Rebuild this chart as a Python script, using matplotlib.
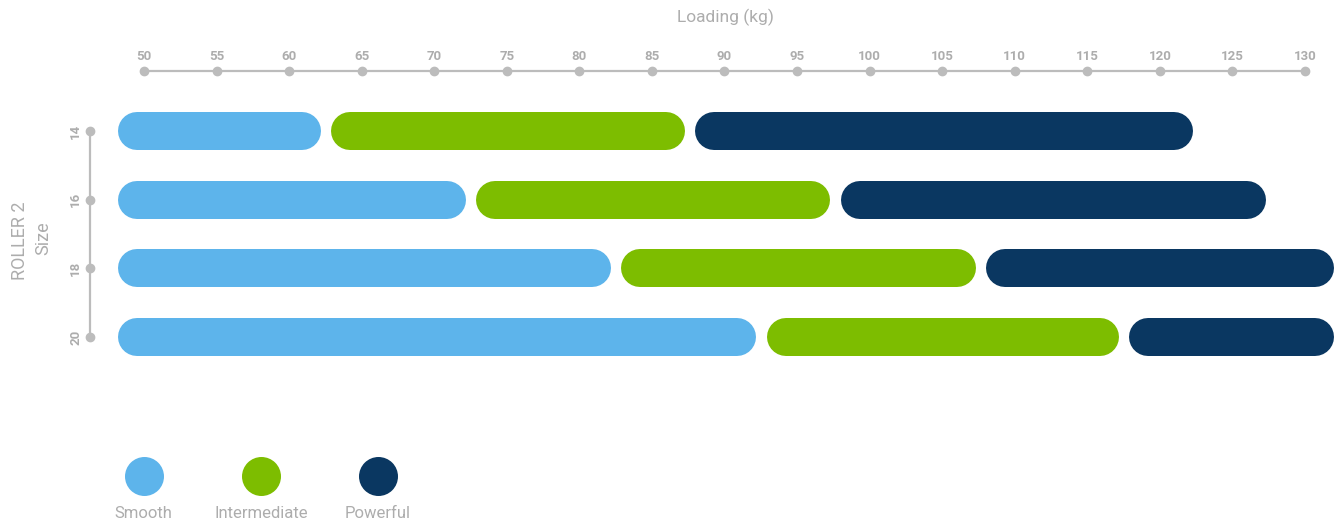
import numpy as np
import matplotlib
matplotlib.use('Agg')
import matplotlib.pyplot as plt
from matplotlib.transforms import offset_copy

plt.rcParams['font.family'] = ['Roboto', 'DejaVu Sans']

# data: visible range of each band, in kg
sizes = ['14', '16', '18', '20']
categories = ['Smooth', 'Intermediate', 'Powerful']
colors = ['#5db4eb', '#7dbd00', '#0a3761']

smooth_start = [48.2, 48.2, 48.2, 48.2]
smooth_end = [62.2, 72.2, 82.2, 92.2]
inter_start = [62.9, 72.9, 82.9, 92.9]
inter_end = [87.3, 97.3, 107.3, 117.2]
power_start = [88.0, 98.0, 108.0, 117.9]
power_end = [122.3, 127.3, 132.0, 132.0]

xticks = np.arange(50, 131, 5)

grey = '#bcbcbc'
txt = '#adadad'

W, H = 1342, 531
fig = plt.figure(figsize=(W / 100, H / 100), dpi=100)

# axes placement in pixels
xmin, xmax = 48, 132
left_px, right_px = 114.975, 1334.0
top_px, bot_px = 71, 371.4
ax = fig.add_axes([left_px / W, 1 - bot_px / H, (right_px - left_px) / W, (bot_px - top_px) / H])
ax.set_xlim(xmin, xmax)
ax.set_ylim(3.5, -0.8725)

px_per_kg = (right_px - left_px) / (xmax - xmin)
bar_px = 38
r = bar_px / 2 / px_per_kg
lw = bar_px * 0.72

starts = [smooth_start, inter_start, power_start]
ends = [smooth_end, inter_end, power_end]
for c in range(3):
    for i in range(len(sizes)):
        ax.plot([starts[c][i] + r, ends[c][i] - r], [i, i], color=colors[c],
                lw=lw, solid_capstyle='round', solid_joinstyle='round')

# axes styling
for s in ['right', 'bottom']:
    ax.spines[s].set_visible(False)
ax.spines['top'].set_bounds(50, 130)
ax.spines['top'].set_color(grey)
ax.spines['top'].set_linewidth(1.6)
ax.spines['left'].set_bounds(0, 3)
ax.spines['left'].set_color(grey)
ax.spines['left'].set_linewidth(1.6)
ax.spines['left'].set_position(('outward', 18))

ax.xaxis.tick_top()
ax.set_xticks(xticks)
ax.set_xticklabels([str(t) for t in xticks])
ax.set_yticks(range(len(sizes)))
ax.set_yticklabels(sizes, rotation=90, va='center')
ax.tick_params(axis='x', length=0, pad=5.5, labelsize=9.5, labelcolor=txt)
ax.tick_params(axis='y', length=0, pad=5.5, labelsize=9.5, labelcolor=txt)
for lab in ax.get_xticklabels() + ax.get_yticklabels():
    lab.set_fontweight('bold')

# dots on the axis lines
ax.plot(xticks, np.ones(len(xticks)), 'o', color=grey, ms=6,
        transform=ax.get_xaxis_transform(), clip_on=False)
ytr = offset_copy(ax.get_yaxis_transform(), fig=fig, x=-18, units='points')
ax.plot(np.zeros(len(sizes)), range(len(sizes)), 'o', color=grey, ms=6,
        transform=ytr, clip_on=False)

# overlay in pixel coords for titles and legend
ov = fig.add_axes([0, 0, 1, 1])
ov.set_xlim(0, W)
ov.set_ylim(H, 0)
ov.axis('off')

ov.text(725, 17, 'Loading (kg)', ha='center', va='center', fontsize=12.5, color=txt)
ov.text(20, 241, 'ROLLER 2', ha='center', va='center', rotation=90, fontsize=13, color=txt)
ov.text(43, 238, 'Size', ha='center', va='center', rotation=90, fontsize=13, color=txt)

leg_x = [143.5, 261, 377.5]
for k, name in enumerate(categories):
    ov.scatter([leg_x[k]], [476], s=(39 * 0.72) ** 2, color=colors[k], linewidths=0)
    ov.text(leg_x[k], 513, name, ha='center', va='center', fontsize=12, color=txt)

fig.savefig('out.png', dpi=100)
